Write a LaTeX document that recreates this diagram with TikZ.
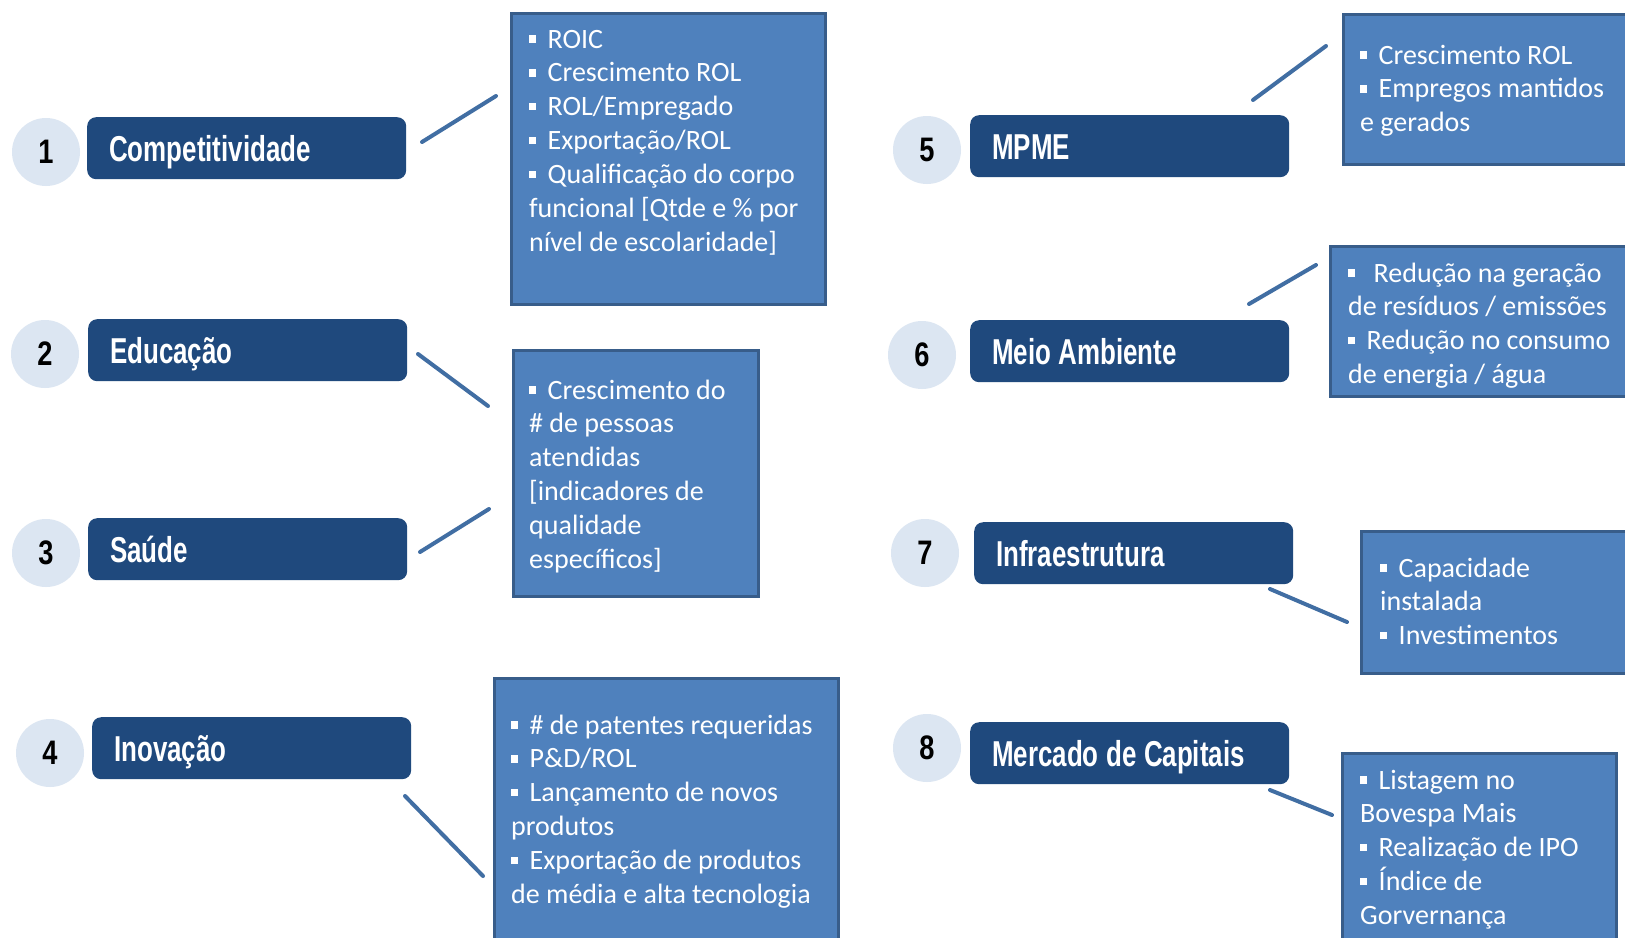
\documentclass[tikz,border=0pt]{standalone}
\usepackage{fontspec}
\setmainfont{Carlito}
\newfontfamily\infofont{Carlito}
\newfontfamily\titlefont[FakeStretch=0.72]{Liberation Sans}
\newfontfamily\numfont[FakeStretch=0.8]{Liberation Sans}
\definecolor{navy}{RGB}{31,73,125}
\definecolor{lightc}{RGB}{220,230,242}
\definecolor{infofill}{RGB}{79,129,189}
\definecolor{infoborder}{RGB}{56,93,138}
\definecolor{conncol}{RGB}{65,110,163}
\newcommand\bul{\rule[0.19em]{0.26em}{0.26em}\hspace{0.4em}}
\newcommand\infolines[1]{\begin{tabular}[t]{@{}l@{}}#1\end{tabular}}
\newcommand\tfont{\titlefont\bfseries\fontsize{36}{40}\selectfont
  \fontdimen2\font=7.5pt\fontdimen3\font=0pt\fontdimen4\font=0pt\relax}
\tikzset{
  titlebox/.style={fill=navy, rounded corners=9pt, anchor=north west,
    minimum height=62pt, text width=275pt, align=flush left, inner xsep=22pt, inner ysep=0pt,
    text height=34pt, text depth=7pt, text=white, font={\tfont}},
  numcircle/.style={circle, fill=lightc, minimum size=68pt, inner sep=0pt, text=black,
    font=\numfont\bfseries\fontsize{34}{36}\selectfont},
  infobox/.style={draw=infoborder, line width=3pt, fill=infofill, anchor=north west, inner sep=0pt},
  infotext/.style={anchor=base west, inner sep=0pt, text=white,
    font=\infofont\fontsize{28}{33.9}\selectfont},
  conn/.style={draw=conncol, line width=4pt, line cap=round}
}
\begin{document}
\begin{tikzpicture}[x=1pt,y=-1pt]
\useasboundingbox (0,0) rectangle (1625,937);
\fill[white] (0,0) rectangle (1625,937);
\clip (0,0) rectangle (1625,937);

% number circles
\node[numcircle] (n1) at (46,152) {1};
\node[numcircle] (n2) at (45,354) {2};
\node[numcircle] (n3) at (46,553) {3};
\node[numcircle] (n4) at (50,753) {4};
\node[numcircle] (n5) at (927,150) {5};
\node[numcircle] (n6) at (922,355) {6};
\node[numcircle] (n7) at (925,553) {7};
\node[numcircle] (n8) at (927,748) {8};

% title boxes
\node[titlebox] (t1) at (87,117) {Competitividade};
\node[titlebox] (t2) at (88,319) {Educação};
\node[titlebox] (t3) at (88,518) {Saúde};
\node[titlebox] (t4) at (92,717) {Inovação};
\node[titlebox] (t5) at (970,115) {MPME};
\node[titlebox] (t6) at (970,320) {Meio Ambiente};
\node[titlebox] (t7) at (974,522) {Infraestrutura};
\node[titlebox] (t8) at (970,722) {Mercado de Capitais};

% info boxes
\node[infobox, minimum width=314pt, minimum height=291pt] (bA) at (510,12) {};
\node[infobox, minimum width=245pt, minimum height=246pt] (bB) at (512,349) {};
\node[infobox, minimum width=344pt, minimum height=290pt] (bC) at (493,677) {};
\node[infobox, minimum width=300pt, minimum height=150pt] (bD) at (1342,13) {};
\node[infobox, minimum width=310pt, minimum height=150pt] (bE) at (1329,245) {};
\node[infobox, minimum width=280pt, minimum height=142pt] (bF) at (1360,530) {};
\node[infobox, minimum width=274pt, minimum height=220pt] (bG) at (1341,752) {};

% info texts
\node[infotext] (xA) at (529,48) {\infolines{\bul ROIC\\ \bul Crescimento ROL\\ \bul ROL/Empregado\\ \bul Exportação/ROL\\ \bul Qualificação do corpo\\ funcional [Qtde e \% por\\ nível de escolaridade]}};
\node[infotext] (xB) at (529,399) {\infolines{\bul Crescimento do\\ \# de pessoas\\ atendidas\\ {[}indicadores de\\ qualidade\\ específicos]}};
\node[infotext] (xC) at (511,734) {\infolines{\bul \# de patentes requeridas\\ \bul P\&D/ROL\\ \bul Lançamento de novos\\ produtos\\ \bul Exportação de produtos\\ de média e alta tecnologia}};
\node[infotext] (xD) at (1360,64) {\infolines{\bul Crescimento ROL\\ \bul Empregos mantidos\\ e gerados}};
\node[infotext] (xE) at (1348,282) {\infolines{\bul\hspace{0.25em}Redução na geração\\ de resíduos / emissões\\ \bul Redução no consumo\\ de energia / água}};
\node[infotext] (xF) at (1380,577) {\infolines{\bul Capacidade\\ instalada\\ \bul Investimentos}};
\node[infotext] (xG) at (1360,789) {\infolines{\bul Listagem no\\ Bovespa Mais\\ \bul Realização de IPO\\ \bul Índice de\\ Gorvernança}};

% connector end points
\coordinate (c1a) at (422,142); \coordinate (c1b) at (496,96);
\coordinate (c2a) at (418,354); \coordinate (c2b) at (488,406);
\coordinate (c3a) at (420,552); \coordinate (c3b) at (489,509);
\coordinate (c4a) at (405,796); \coordinate (c4b) at (483,876);
\coordinate (c5a) at (1253,100); \coordinate (c5b) at (1326,46);
\coordinate (c6a) at (1249,304); \coordinate (c6b) at (1316,265);
\coordinate (c7a) at (1270,589); \coordinate (c7b) at (1347,622);
\coordinate (c8a) at (1270,790); \coordinate (c8b) at (1332,815);

\draw[conn] (c1a) -- (c1b);
\draw[conn] (c2a) -- (c2b);
\draw[conn] (c3a) -- (c3b);
\draw[conn] (c4a) -- (c4b);
\draw[conn] (c5a) -- (c5b);
\draw[conn] (c6a) -- (c6b);
\draw[conn] (c7a) -- (c7b);
\draw[conn] (c8a) -- (c8b);
\end{tikzpicture}
\end{document}
